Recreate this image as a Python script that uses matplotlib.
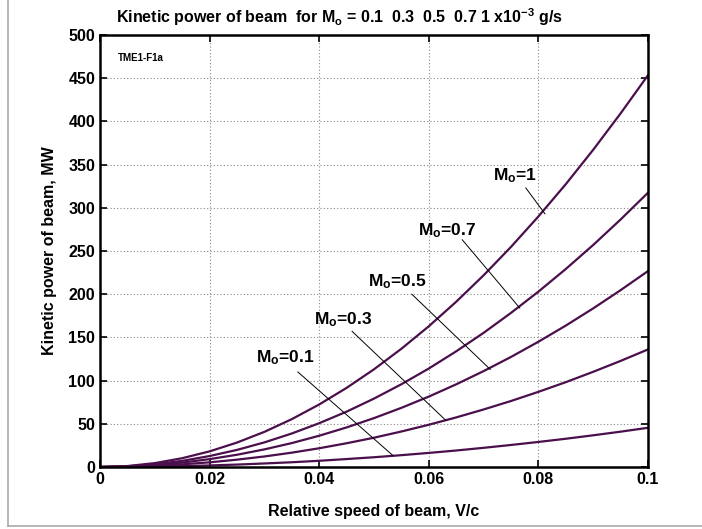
import matplotlib
matplotlib.use("Agg")
import matplotlib.pyplot as plt
import matplotlib.lines as mlines

plt.rcParams['font.family'] = ['Liberation Sans', 'DejaVu Sans']
plt.rcParams['font.weight'] = 'bold'
plt.rcParams['mathtext.fontset'] = 'custom'
plt.rcParams['mathtext.rm'] = 'Liberation Sans:bold'
plt.rcParams['mathtext.it'] = 'Liberation Sans:bold'
plt.rcParams['mathtext.bf'] = 'Liberation Sans:bold'
plt.rcParams['mathtext.default'] = 'rm'

# relative speed V/c
speed = [0, 0.005, 0.01, 0.015, 0.02, 0.025, 0.03, 0.035, 0.04, 0.045, 0.05,
         0.055, 0.06, 0.065, 0.07, 0.075, 0.08, 0.085, 0.09, 0.095, 0.1]

# kinetic power, MW
p_m1 = [0, 1.1, 4.5, 10.2, 18.1, 28.3, 40.7, 55.4, 72.4, 91.6, 113.1,
        136.9, 162.9, 191.3, 221.9, 254.8, 290.0, 327.4, 367.2, 409.3, 453.5]
p_m07 = [0, 0.8, 3.2, 7.1, 12.7, 19.8, 28.5, 38.8, 50.7, 64.1, 79.2,
         95.8, 114.0, 133.9, 155.3, 178.4, 203.0, 229.2, 257.0, 286.5, 317.5]
p_m05 = [0, 0.6, 2.3, 5.1, 9.1, 14.2, 20.4, 27.7, 36.2, 45.8, 56.6,
         68.5, 81.5, 95.7, 111.0, 127.4, 145.0, 163.7, 183.6, 204.7, 226.8]
p_m03 = [0, 0.3, 1.4, 3.1, 5.4, 8.5, 12.2, 16.6, 21.7, 27.5, 33.9,
         41.1, 48.9, 57.4, 66.6, 76.4, 87.0, 98.2, 110.2, 122.8, 136.1]
p_m01 = [0, 0.1, 0.5, 1.0, 1.8, 2.8, 4.1, 5.5, 7.2, 9.2, 11.3,
         13.7, 16.3, 19.1, 22.2, 25.5, 29.0, 32.7, 36.7, 40.9, 45.4]

curves = [p_m1, p_m07, p_m05, p_m03, p_m01]
labels = ['M$_o$=1', 'M$_o$=0.7', 'M$_o$=0.5', 'M$_o$=0.3', 'M$_o$=0.1']
# (label x, label y, line start x, line start y, line end x, line end y)
label_pos = [(0.0757, 337, 0.0777, 323, 0.0812, 293),
             (0.0633, 273, 0.0661, 263, 0.0766, 184),
             (0.0542, 215, 0.0569, 200, 0.0712, 113),
             (0.0443, 170, 0.0460, 157, 0.0631, 54),
             (0.0338, 126, 0.0361, 110, 0.0535, 13)]

line_color = '#4b0f4c'

fig = plt.figure(figsize=(7.02, 5.29), dpi=100)
ax = fig.add_axes([0.1425, 0.1172, 0.7806, 0.8166])

for p in curves:
    ax.plot(speed, p, color=line_color, linewidth=1.6)

for lab, (lx, ly, sx, sy, ex, ey) in zip(labels, label_pos):
    ax.text(lx, ly, lab, ha='center', va='center', fontsize=12.5, fontweight='bold')
    ax.plot([sx, ex], [sy, ey], color='black', linewidth=0.7)

ax.text(0.0033, 473, 'TME1-F1a', fontsize=7, fontweight='bold', va='center')

ax.set_xlim(0, 0.1)
ax.set_ylim(0, 500)
ax.set_xticks([0, 0.02, 0.04, 0.06, 0.08, 0.1])
ax.set_xticklabels(['0', '0.02', '0.04', '0.06', '0.08', '0.1'])
ax.set_yticks(range(0, 501, 50))
ax.tick_params(direction='in', top=True, right=True, labelsize=11.5, length=5, width=1.2)
for lbl in ax.get_xticklabels() + ax.get_yticklabels():
    lbl.set_fontweight('bold')
for s in ax.spines.values():
    s.set_linewidth(1.8)
ax.grid(True, linestyle=(0, (1, 2)), color='#888888', linewidth=0.8)

fig.text(0.483, 1 - 17 / 529,
         'Kinetic power of beam  for M$_o$ = 0.1  0.3  0.5  0.7 1 x10$^{-3}$ g/s',
         ha='center', va='center', fontsize=11.5, fontweight='bold')
ax.set_xlabel('Relative speed of beam, V/c', fontsize=11.5, fontweight='bold', labelpad=12)
ax.set_ylabel('Kinetic power of beam, MW', fontsize=11.5, fontweight='bold', labelpad=8)

# light frame at left and bottom of the picture
fig.add_artist(mlines.Line2D([8 / 702, 8 / 702], [3 / 529, 1], color='#aaaaaa', linewidth=1.2))
fig.add_artist(mlines.Line2D([8 / 702, 1], [3 / 529, 3 / 529], color='#aaaaaa', linewidth=1.2))

fig.savefig('out.png', dpi=100)
